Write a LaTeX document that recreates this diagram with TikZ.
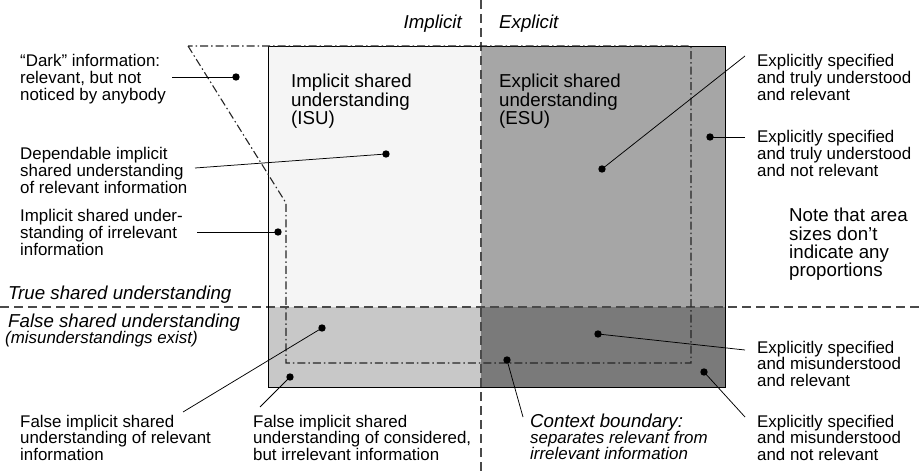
\documentclass[tikz,border=0pt]{standalone}
\usepackage{fontspec}
\setmainfont{Liberation Sans}
\definecolor{ulfill}{HTML}{F5F5F5}
\definecolor{llfill}{HTML}{C8C8C8}
\definecolor{urfill}{HTML}{A6A6A6}
\definecolor{lrfill}{HTML}{7A7A7A}
\definecolor{axisgray}{HTML}{4A4A4A}
\begin{document}
\begin{tikzpicture}[x=1pt,y=-1pt,
  small/.style={font=\fontsize{16.9}{16.6}\selectfont, align=left, anchor=base west, inner sep=0pt},
  big/.style={font=\fontsize{18.7}{18.3}\selectfont, align=left, anchor=base west, inner sep=0pt},
  smallit/.style={small, font=\fontsize{16.9}{16.6}\selectfont\itshape},
  bigit/.style={big, font=\fontsize{18.7}{18.3}\selectfont\itshape},
  dot/.style={circle, fill=black, inner sep=0pt, minimum size=7.4pt},
  conn/.style={line width=0.75pt, black},
  axisline/.style={line width=1.4pt, color=axisgray, dash pattern=on 9pt off 5pt},
  ctx/.style={line width=1.1pt, color=black!85, dash pattern=on 8pt off 3pt on 1.5pt off 3pt},
]
\useasboundingbox (0,0) rectangle (919,473);

% quadrants
\fill[ulfill] (268,46) rectangle (481,307);
\fill[llfill] (268,307) rectangle (481,387);
\fill[urfill] (481,46) rectangle (725,307);
\fill[lrfill] (481,307) rectangle (725,387);

% axes
\coordinate (vtop) at (481,0);
\coordinate (vbot) at (481,473);
\coordinate (hl) at (0,307);
\coordinate (hr) at (919,307);
\draw[axisline] (vtop) -- (vbot);
\draw[axisline] (hl) -- (hr);

% outline
\draw[line width=0.8pt] (268,46) rectangle (725,387);

% context boundary
\coordinate (k1) at (188,46);
\coordinate (k2) at (286,203);
\coordinate (k3) at (286,363);
\coordinate (k4) at (691,363);
\coordinate (k5) at (691,46);
\draw[ctx] (k1) -- (k2) -- (k3) -- (k4) -- (k5) -- cycle;

% dots
\node[dot] (dDark) at (236,77) {};
\node[dot] (dDep) at (386,154) {};
\node[dot] (dIrr) at (278,232) {};
\node[dot] (dESU) at (602,169) {};
\node[dot] (dTNR) at (710,137) {};
\node[dot] (dFIR) at (322,328) {};
\node[dot] (dFIC) at (290,377) {};
\node[dot] (dMR) at (598,334) {};
\node[dot] (dCtx) at (507,360) {};
\node[dot] (dMNR) at (704,372) {};

% connector free ends
\coordinate (cDark) at (172,77);
\coordinate (cDep) at (195,168);
\coordinate (cIrr) at (197,232);
\coordinate (cESU) at (745,56);
\coordinate (cTNR) at (745,137);
\coordinate (cFIR) at (183,412);
\coordinate (cFIC) at (260,407);
\coordinate (cMR) at (745,350);
\coordinate (cCtx) at (523,417);
\coordinate (cMNR) at (745,417);

\draw[conn] (cDark) -- (dDark.center);
\draw[conn] (cDep) -- (dDep.center);
\draw[conn] (cIrr) -- (dIrr.center);
\draw[conn] (cESU) -- (dESU.center);
\draw[conn] (cTNR) -- (dTNR.center);
\draw[conn] (cFIR) -- (dFIR.center);
\draw[conn] (cFIC) -- (dFIC.center);
\draw[conn] (cMR) -- (dMR.center);
\draw[conn] (cCtx) -- (dCtx.center);
\draw[conn] (cMNR) -- (dMNR.center);

% texts (base anchor = baseline of the last line)
\node[bigit, anchor=base east] (tImp) at (462,29) {Implicit};
\node[bigit] (tExp) at (499,29) {Explicit};
\node[big] (tISU) at (291,124.6) {Implicit shared\\understanding\\(ISU)};
\node[big] (tESU) at (499,124.6) {Explicit shared\\understanding\\(ESU)};
\node[small] (tDark) at (20,100.2) {“Dark” information:\\relevant, but not\\noticed by anybody};
\node[small] (tDep) at (20,193.2) {Dependable implicit\\shared understanding\\of relevant information};
\node[small] (tIrr) at (20,255.2) {Implicit shared under-\\standing of irrelevant\\information};
\node[bigit] (tTrue) at (8,300) {True shared understanding};
\node[bigit] (tFalse) at (8,327) {False shared understanding};
\node[smallit] (tMis) at (5,343) {(misunderstandings exist)};
\node[small] (tFIR) at (20,460.2) {False implicit shared\\understanding of relevant\\information};
\node[small] (tFIC) at (253,460.2) {False implicit shared\\understanding of considered,\\but irrelevant information};
\node[bigit] (tCtx) at (530,427) {Context boundary:};
\node[smallit] (tCtx2) at (530,459.6) {separates relevant from\\irrelevant information};
\node[small] (tESR) at (757,100.2) {Explicitly specified\\and truly understood\\and relevant};
\node[small] (tTNR) at (757,176.2) {Explicitly specified\\and truly understood\\and not relevant};
\node[big] (tNote) at (789,276.9) {Note that area\\sizes don’t\\indicate any\\proportions};
\node[small] (tMR) at (757,386.2) {Explicitly specified\\and misunderstood\\and relevant};
\node[small] (tMNR) at (757,460.2) {Explicitly specified\\and misunderstood\\and not relevant};
\end{tikzpicture}
\end{document}
